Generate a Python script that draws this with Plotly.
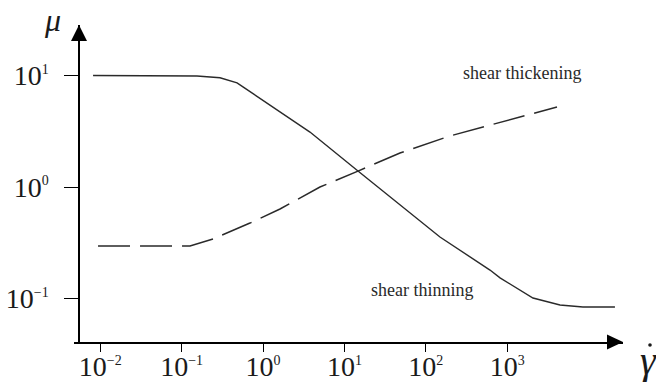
import plotly.graph_objects as go

# ---- data ----
thin_rate = [0.00817, 0.0681, 0.1545, 0.2965, 0.480, 0.5675, 1.618, 3.776, 14.69, 78.0, 149.3, 615, 817, 2075, 4457, 8531, 21086]
thin_visc = [10.0, 10.0, 9.9, 9.55, 8.6, 7.9, 4.71, 3.11, 1.39, 0.527, 0.356, 0.180, 0.153, 0.101, 0.0875, 0.0839, 0.0839]

thick_rate = [0.0094, 0.1268, 0.243, 0.692, 1.618, 5.01, 14.69, 48.2, 198, 4093]
thick_visc = [0.296, 0.296, 0.342, 0.475, 0.635, 1.0, 1.39, 2.02, 2.87, 5.22]

x_tickvals = [0.01, 0.1, 1, 10, 100, 1000]
x_exponents = ["−2", "−1", "0", "1", "2", "3"]
y_tickvals = [0.1, 1, 10]
y_exponents = ["−1", "0", "1"]

FONT = "Liberation Serif, Times New Roman, serif"
SUP = "<sup><span style='font-size:14px'>{}</span></sup>"
x_ticktext = ["10" + SUP.format(e) for e in x_exponents]
y_ticktext = ["10" + SUP.format(e) for e in y_exponents]

W, H = 656, 382
L, R, T, B = 74, 33, 25, 40
pw, ph = W - L - R, H - T - B

def px(x):  # pixel x -> paper
    return (x - L) / pw

def py(y):  # pixel y -> paper
    return (H - B - y) / ph

fig = go.Figure()
fig.add_trace(go.Scatter(x=thin_rate, y=thin_visc, mode="lines",
                         line=dict(color="#2a2a2a", width=1.4), hoverinfo="skip"))
fig.add_trace(go.Scatter(x=thick_rate, y=thick_visc, mode="lines",
                         line=dict(color="#2a2a2a", width=1.5, dash="32px,10px"), hoverinfo="skip"))

fig.update_layout(
    width=W, height=H, margin=dict(l=L, r=R, t=T, b=B, autoexpand=False),
    paper_bgcolor="white", plot_bgcolor="white", showlegend=False,
    font=dict(family=FONT, color="#1a1a1a"),
    xaxis=dict(type="log", range=[-2.322, 4.423], tickvals=x_tickvals, ticktext=x_ticktext,
               automargin=False,
               showline=True, linecolor="black", linewidth=1.5, ticks="outside", ticklen=8,
               tickwidth=1.3, tickcolor="black", showgrid=False, zeroline=False,
               ticklabelstandoff=-9,
               tickfont=dict(family=FONT, size=28, color="#1a1a1a")),
    yaxis=dict(type="log", range=[-1.390, 1.453], tickvals=y_tickvals, ticktext=y_ticktext,
               anchor="free", position=px(79), automargin=False,
               showline=True, linecolor="black", linewidth=1.5, ticks="outside", ticklen=14,
               tickwidth=1.3, tickcolor="black", showgrid=False, zeroline=False,
               ticklabelstandoff=10,
               tickfont=dict(family=FONT, size=28, color="#1a1a1a")),
)

# axis arrow heads
fig.add_shape(type="path", xref="paper", yref="paper",
              path=f"M {px(79)} {py(25)} L {px(71)} {py(41)} L {px(87)} {py(41)} Z",
              fillcolor="black", line=dict(color="black", width=0))
fig.add_shape(type="path", xref="paper", yref="paper",
              path=f"M {px(623)} {py(342)} L {px(607)} {py(334.5)} L {px(607)} {py(349.5)} Z",
              fillcolor="black", line=dict(color="black", width=0))
# dot of gamma-dot (rate symbol)
fig.add_shape(type="circle", xref="paper", yref="paper",
              x0=px(648.2), x1=px(651.8), y0=py(346.8), y1=py(343.2),
              fillcolor="#1a1a1a", line=dict(color="#1a1a1a", width=0))

def label(text, x, y, size, color="#2a2a2a"):
    fig.add_annotation(text=text, xref="paper", yref="paper", x=px(x), y=py(y),
                       xanchor="center", yanchor="middle", showarrow=False,
                       font=dict(family=FONT, size=size, color=color))

label("shear thickening", 522, 73, 18)
label("shear thinning", 422, 290, 18)
label("<i>μ</i>", 52, 20, 32, "#1a1a1a")
label("<i>γ</i>", 648, 360, 40, "#1a1a1a")

fig.write_html("out.html")
